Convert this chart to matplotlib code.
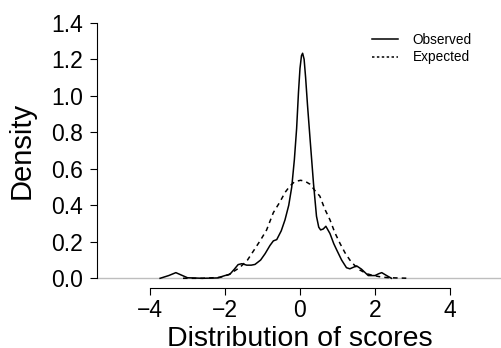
import matplotlib
matplotlib.use("Agg")
import matplotlib.pyplot as plt

plt.rcParams['font.family'] = ['Liberation Sans', 'DejaVu Sans']

# observed density
obs_x = [-3.73, -3.5, -3.31, -3.1, -3.0, -2.6, -2.2, -2.0, -1.87, -1.75, -1.65,
         -1.55, -1.42, -1.3, -1.2, -1.05, -0.93, -0.8, -0.71, -0.62, -0.5, -0.4,
         -0.3, -0.22, -0.15, -0.09, -0.04, 0.0, 0.04, 0.07, 0.11, 0.15, 0.2, 0.27,
         0.36, 0.44, 0.5, 0.55, 0.62, 0.69, 0.8, 0.9, 0.98, 1.11, 1.24, 1.33, 1.42,
         1.51, 1.64, 1.82, 2.0, 2.1, 2.18, 2.31, 2.44]
obs_y = [0.0, 0.015, 0.031, 0.012, 0.003, 0.0, 0.002, 0.015, 0.022, 0.05, 0.075,
         0.08, 0.072, 0.072, 0.076, 0.1, 0.135, 0.18, 0.205, 0.212, 0.26, 0.32,
         0.40, 0.50, 0.65, 0.82, 1.02, 1.15, 1.22, 1.233, 1.2, 1.1, 0.95, 0.76,
         0.52, 0.34, 0.28, 0.265, 0.27, 0.285, 0.245, 0.19, 0.155, 0.10, 0.058,
         0.052, 0.06, 0.068, 0.05, 0.015, 0.015, 0.025, 0.031, 0.015, 0.0]

# expected density
exp_x = [-3.12, -2.6, -2.13, -1.9, -1.6, -1.4, -1.24, -1.05, -0.89, -0.71, -0.53,
         -0.4, -0.27, -0.14, 0.02, 0.15, 0.27, 0.4, 0.53, 0.66, 0.8, 0.93, 1.07,
         1.2, 1.33, 1.46, 1.6, 1.78, 1.96, 2.2, 2.4, 2.93]
exp_y = [0.0, 0.0, 0.005, 0.02, 0.06, 0.1, 0.15, 0.21, 0.265, 0.36, 0.42,
         0.47, 0.505, 0.53, 0.537, 0.53, 0.515, 0.48, 0.45, 0.38, 0.32, 0.25, 0.19,
         0.14, 0.10, 0.07, 0.045, 0.025, 0.015, 0.006, 0.003, 0.0]

x_ticks = [-4, -2, 0, 2, 4]
y_ticks = [0.0, 0.2, 0.4, 0.6, 0.8, 1.0, 1.2, 1.4]

W, H = 502, 348
fig = plt.figure(figsize=(W / 100, H / 100), dpi=100)
l, r, b, t = 96.7, 502, 288.3, 18.2
ax = fig.add_axes([l / W, 1 - b / H, (r - l) / W, (b - t) / H])

ax.axhline(0, color='#BEBEBE', lw=1.0, zorder=1)
ax.plot(obs_x, obs_y, color='black', lw=1.1, label='Observed')
ax.plot(exp_x, exp_y, color='black', lw=1.1, dashes=(3, 2.7), label='Expected')

ax.set_xlim(-5.421, 5.387)
ax.set_ylim(-0.0548, 1.425)
ax.set_xticks(x_ticks)
ax.set_yticks(y_ticks)
ax.set_yticklabels([f"{v:.1f}" for v in y_ticks])

for s in ['top', 'right']:
    ax.spines[s].set_visible(False)
ax.spines['bottom'].set_bounds(-4, 4)
ax.spines['left'].set_bounds(0, 1.4)
for s in ['bottom', 'left']:
    ax.spines[s].set_linewidth(0.8)
ax.tick_params(length=4.8, width=0.8, labelsize=16.5, pad=3)
ax.tick_params(axis='y', pad=5)

fig.text(300 / W, 1 - 345.5 / H, 'Distribution of scores', ha='center',
         va='baseline', fontsize=20.5)
fig.text(36 / W, 1 - 150.5 / H, 'Density', rotation=90, ha='right',
         va='center', fontsize=21)

leg = ax.legend(loc='upper left', bbox_to_anchor=(372 / W, 1 - 33 / H),
                bbox_transform=fig.transFigure, frameon=False, fontsize=9.8,
                handlelength=1.9, handletextpad=1.1, labelspacing=0.25,
                borderpad=0, borderaxespad=0)
leg.get_lines()[1].set_dashes((1.6, 1.6))

fig.savefig('out.png', dpi=100)
